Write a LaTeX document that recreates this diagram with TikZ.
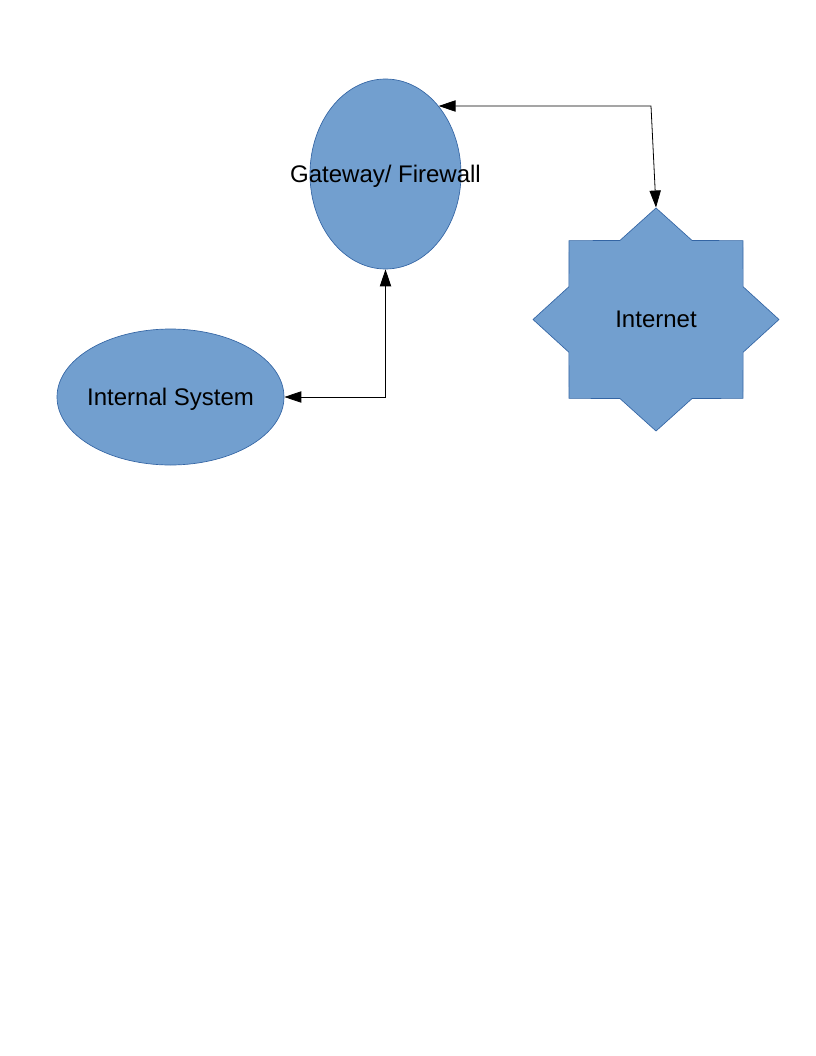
\documentclass[tikz,border=0pt]{standalone}
\usepackage{fontspec}
\setmainfont{Liberation Sans}
\usetikzlibrary{shapes.geometric,arrows.meta}
\definecolor{shapefill}{HTML}{729FCF}
\definecolor{shapeline}{HTML}{3465A4}
\begin{document}
\begin{tikzpicture}[x=0.75pt,y=-0.75pt,
  blob/.style={fill=shapefill,draw=shapeline,line width=0.5pt,inner sep=0pt},
  every label/.style={yshift=-1.5pt},
  link/.style={black,line width=0.6pt,{Triangle[length=12.75pt,width=8.5pt]}-{Triangle[length=12.75pt,width=8.5pt]}}]
\tikzstyle{every node}+=[font=\fontsize{18}{21.6}\selectfont]
\useasboundingbox (0,0) rectangle (816,1056);
\node [blob,ellipse,minimum width=113.25pt,minimum height=142.5pt,label=center:{Gateway/ Firewall}] (gw) at (385.5,174) {};
\node [blob,ellipse,minimum width=170.25pt,minimum height=102pt,label=center:{Internal System}] (int) at (170.5,397) {};
\coordinate (netc) at (656,319.5);
\node [blob,star,star points=8,star point ratio=1.304,minimum size=167.25pt,xscale=1.103,transform shape] (net) at (netc) {};
\node at (net.center) {Internet};
\coordinate (bend) at (651,106);
\draw [link] (gw.52) -- (bend) -- (net.outer point 1);
\draw [link] (gw.south) |- (int.east);
\end{tikzpicture}
\end{document}
